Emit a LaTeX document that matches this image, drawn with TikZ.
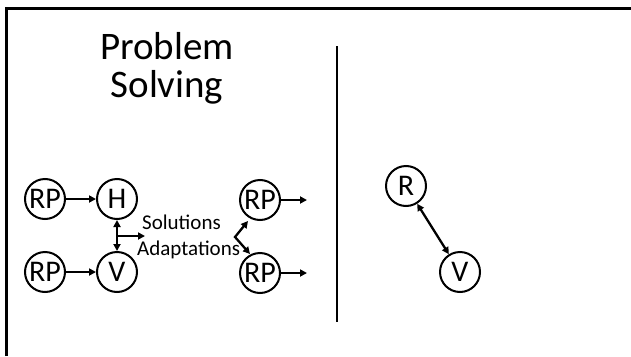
\documentclass[tikz,border=0pt]{standalone}
\usepackage{fontspec}
\setmainfont{Carlito}
\usetikzlibrary{arrows.meta,calc}
\begin{document}
\begin{tikzpicture}[x=1pt,y=-1pt,
  circ/.style={draw,circle,line width=2pt,inner sep=0pt,minimum size=40pt,font=\fontsize{30}{30}\selectfont},
  arr/.style={line width=2.3pt,-{Triangle[length=7pt,width=7pt]}},
  darr/.style={line width=2.3pt,{Triangle[length=7pt,width=7pt]}-{Triangle[length=7pt,width=7pt]}},
  lbl/.style={font=\fontsize{21}{21}\selectfont,inner sep=0pt,anchor=west},
  ttl/.style={font=\fontsize{39}{39}\selectfont,inner sep=0pt},
  frame/.style={line width=3pt}]
\useasboundingbox (0,0) rectangle (631,356);
% frame
\coordinate (f1) at (6,356);
\coordinate (f2) at (6,8);
\coordinate (f3) at (631,8);
\draw[frame] (f1) -- (f2) -- (f3);
% title
\node[ttl] (t1) at (167,46) {Problem};
\node[ttl] (t2) at (167,87) {Solving};
% divider
\coordinate (d1) at (337,46);
\coordinate (d2) at (337,322);
\draw[line width=2.5pt] (d1) -- (d2);
% left group
\node[circ] (rp1) at (45,199) {RP};
\node[circ] (h) at (117,199) {H};
\node[circ] (rp2) at (45,272) {RP};
\node[circ] (v) at (117,272) {V};
\draw[arr] (rp1) -- (h);
\draw[arr] (rp2) -- (v);
\draw[darr] (h) -- (v);
\coordinate (m) at (117,236);
\coordinate (sa) at (145,236);
\draw[arr] (m) -- (sa);
\node[lbl] (sol) at (142,222) {Solutions};
\node[lbl] (ada) at (137,250) {Adaptations};
% right of left group
\node[circ] (rp3) at (260,200) {RP};
\node[circ] (rp4) at (260,273) {RP};
\coordinate (e3) at (307,200);
\coordinate (e4) at (307,273);
\draw[arr] (rp3) -- (e3);
\draw[arr] (rp4) -- (e4);
\coordinate (bc) at (235,237);
\coordinate (b1) at (248,221);
\coordinate (b2) at (250,254);
\draw[darr] (b1) -- (bc) -- (b2);
% right panel
\node[circ] (r) at (406,186) {R};
\node[circ] (v2) at (460,272) {V};
\draw[darr] (r) -- (v2);
\end{tikzpicture}
\end{document}
